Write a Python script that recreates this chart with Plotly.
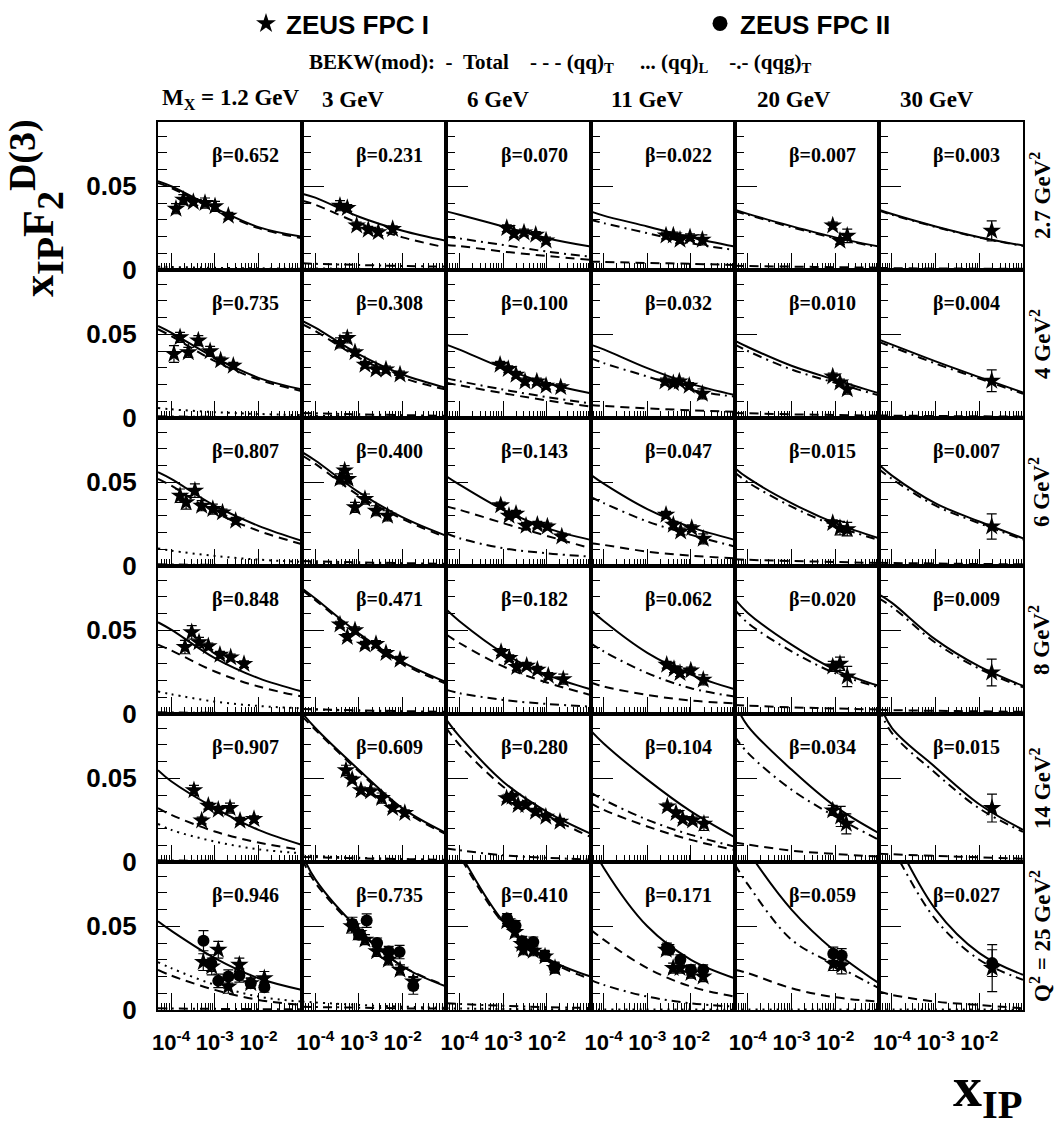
import math
import plotly.graph_objects as go
from plotly.subplots import make_subplots

# ---------------- data ----------------
MX_LABELS = ["M<sub>X</sub> = 1.2 GeV", "3 GeV", "6 GeV", "11 GeV", "20 GeV", "30 GeV"]
Q2_LABELS = ["2.7 GeV<sup>2</sup>", "4 GeV<sup>2</sup>", "6 GeV<sup>2</sup>", "8 GeV<sup>2</sup>",
             "14 GeV<sup>2</sup>", "Q<sup>2</sup> = 25 GeV<sup>2</sup>"]
BETA = ["0.652", "0.231", "0.070", "0.022", "0.007", "0.003",
        "0.735", "0.308", "0.100", "0.032", "0.010", "0.004",
        "0.807", "0.400", "0.143", "0.047", "0.015", "0.007",
        "0.848", "0.471", "0.182", "0.062", "0.020", "0.009",
        "0.907", "0.609", "0.280", "0.104", "0.034", "0.015",
        "0.946", "0.735", "0.410", "0.171", "0.059", "0.027"]

NB = "\u00a0"
XTICK_VALS = [1e-4, 1e-3, 1e-2]
XTICK_TEXT = ["10<sup>-4</sup>", "10<sup>-3</sup>", "10<sup>-2</sup>"]
YTICK_VALS = [0, 0.05]
YTICK_TEXT = ["0", "0.05"]

# model curves sampled at these x_IP values
CURVE_X = [5e-5, 1e-4, 1e-3, 1e-2, 1e-1]

TOTAL = [
    [0.053, 0.050, 0.037, 0.0256, 0.0198], [0.0456, 0.0432, 0.0318, 0.0234, 0.0174],
    [0.035, 0.033, 0.026, 0.019, 0.014], [0.035, 0.0325, 0.026, 0.0194, 0.014],
    [0.036, 0.0335, 0.0262, 0.0195, 0.014], [0.036, 0.0334, 0.026, 0.0196, 0.0146],
    [0.055, 0.051, 0.036, 0.024, 0.017], [0.058, 0.054, 0.038, 0.026, 0.018],
    [0.0438, 0.0408, 0.0298, 0.0208, 0.0148], [0.0438, 0.041, 0.0298, 0.0204, 0.0138],
    [0.0462, 0.0424, 0.0312, 0.0228, 0.0148], [0.0468, 0.0438, 0.0338, 0.0244, 0.0152],
    [0.056, 0.052, 0.036, 0.024, 0.015], [0.068, 0.063, 0.044, 0.029, 0.018],
    [0.0536, 0.0486, 0.0336, 0.0226, 0.0156], [0.0546, 0.0492, 0.034, 0.0232, 0.0156],
    [0.0586, 0.0526, 0.0376, 0.0256, 0.0166], [0.0606, 0.054, 0.0374, 0.0266, 0.0166],
    [0.0548, 0.0504, 0.0334, 0.0214, 0.0134], [0.075, 0.069, 0.048, 0.031, 0.019],
    [0.0624, 0.0554, 0.0364, 0.0234, 0.0148], [0.0624, 0.0555, 0.0365, 0.0235, 0.0148],
    [0.0688, 0.0604, 0.0414, 0.0264, 0.0168], [0.0714, 0.0664, 0.0444, 0.0284, 0.0168],
    [0.0548, 0.0482, 0.0322, 0.0192, 0.0102], [0.089, 0.080, 0.055, 0.032, 0.0172],
    [0.085, 0.075, 0.048, 0.030, 0.017], [0.0786, 0.0708, 0.0492, 0.0302, 0.0148],
    [0.095, 0.0812, 0.0552, 0.0332, 0.0172], [0.096, 0.080, 0.0565, 0.0345, 0.0192],
    [0.053, 0.0474, 0.031, 0.019, 0.012], [0.093, 0.078, 0.048, 0.026, 0.014],
    [0.107, 0.094, 0.053, 0.031, 0.020], [0.100, 0.085, 0.050, 0.030, 0.019],
    [0.108, 0.095, 0.060, 0.035, 0.016], [0.122, 0.106, 0.060, 0.034, 0.021],
]
QQ_T = [
    [0.052, 0.049, 0.036, 0.025, 0.019], [0.0414, 0.039, 0.028, 0.0195, 0.0134],
    [0.015, 0.0143, 0.011, 0.0084, 0.006], [0.005, 0.0048, 0.0042, 0.0037, 0.003],
    [0.0025, 0.0024, 0.002, 0.0017, 0.0014], [0.0012, 0.0011, 0.0009, 0.0008, 0.0007],
    [0.053, 0.049, 0.034, 0.023, 0.016], [0.056, 0.052, 0.036, 0.024, 0.017],
    [0.021, 0.0195, 0.0148, 0.0105, 0.0068], [0.0078, 0.0072, 0.0058, 0.0046, 0.0038],
    [0.003, 0.0028, 0.0022, 0.0018, 0.0014], [0.0015, 0.0014, 0.0012, 0.001, 0.0008],
    [0.052, 0.048, 0.032, 0.021, 0.013], [0.066, 0.061, 0.042, 0.028, 0.017],
    [0.0356, 0.0336, 0.0256, 0.018, 0.0106], [0.0136, 0.0126, 0.0086, 0.0062, 0.0046],
    [0.004, 0.0037, 0.003, 0.0024, 0.0018], [0.002, 0.0018, 0.0015, 0.0012, 0.001],
    [0.0414, 0.038, 0.0254, 0.0164, 0.0104], [0.074, 0.068, 0.047, 0.030, 0.018],
    [0.0474, 0.0424, 0.0284, 0.0188, 0.0114], [0.0188, 0.0164, 0.0114, 0.008, 0.0064],
    [0.0054, 0.005, 0.004, 0.0033, 0.0027], [0.0025, 0.0023, 0.0019, 0.0016, 0.0013],
    [0.0322, 0.0282, 0.0182, 0.0116, 0.0072], [0.087, 0.079, 0.054, 0.031, 0.0165],
    [0.080, 0.070, 0.045, 0.028, 0.015], [0.0352, 0.0312, 0.0212, 0.0132, 0.0072],
    [0.0116, 0.0104, 0.0068, 0.0048, 0.0032], [0.005, 0.0046, 0.0036, 0.0028, 0.002],
    [0.024, 0.0206, 0.012, 0.006, 0.003], [0.090, 0.076, 0.047, 0.026, 0.0145],
    [0.105, 0.092, 0.052, 0.030, 0.0185], [0.048, 0.042, 0.025, 0.014, 0.008],
    [0.024, 0.022, 0.013, 0.0076, 0.005], [0.011, 0.009, 0.005, 0.003, 0.001],
]
QQ_L = [
    [0.002, 0.0018, 0.0013, 0.001, 0.0008], [0.001, 0.0009, 0.0007, 0.0005, 0.0004],
    [0.0004, 0.00035, 0.0003, 0.00025, 0.0002], [0.0004, 0.00035, 0.0003, 0.00025, 0.0002],
    [0.0004, 0.00035, 0.0003, 0.00025, 0.0002], [0.0004, 0.00035, 0.0003, 0.00025, 0.0002],
    [0.006, 0.0052, 0.0035, 0.0024, 0.0017], [0.0015, 0.0013, 0.001, 0.0007, 0.0005],
    [0.0004, 0.00035, 0.0003, 0.00025, 0.0002], [0.0004, 0.00035, 0.0003, 0.00025, 0.0002],
    [0.0004, 0.00035, 0.0003, 0.00025, 0.0002], [0.0004, 0.00035, 0.0003, 0.00025, 0.0002],
    [0.0105, 0.0092, 0.006, 0.0038, 0.0025], [0.002, 0.0018, 0.0013, 0.0009, 0.0006],
    [0.0005, 0.00045, 0.0004, 0.0003, 0.0002], [0.0004, 0.00035, 0.0003, 0.00025, 0.0002],
    [0.0004, 0.00035, 0.0003, 0.00025, 0.0002], [0.0004, 0.00035, 0.0003, 0.00025, 0.0002],
    [0.0134, 0.0118, 0.0074, 0.0048, 0.0034], [0.003, 0.0027, 0.0019, 0.0013, 0.0009],
    [0.0006, 0.0005, 0.0004, 0.0003, 0.0002], [0.0004, 0.00035, 0.0003, 0.00025, 0.0002],
    [0.0004, 0.00035, 0.0003, 0.00025, 0.0002], [0.0004, 0.00035, 0.0003, 0.00025, 0.0002],
    [0.0228, 0.0192, 0.0122, 0.0076, 0.0052], [0.004, 0.0036, 0.0025, 0.0017, 0.0011],
    [0.0008, 0.0007, 0.0005, 0.0004, 0.0003], [0.0004, 0.00035, 0.0003, 0.00025, 0.0002],
    [0.0004, 0.00035, 0.0003, 0.00025, 0.0002], [0.0004, 0.00035, 0.0003, 0.00025, 0.0002],
    [0.0286, 0.025, 0.015, 0.008, 0.005], [0.005, 0.0045, 0.003, 0.002, 0.0013],
    [0.001, 0.0009, 0.0006, 0.0004, 0.0003], [0.0004, 0.00035, 0.0003, 0.00025, 0.0002],
    [0.0004, 0.00035, 0.0003, 0.00025, 0.0002], [0.0004, 0.00035, 0.0003, 0.00025, 0.0002],
]
QQG_T = [
    [0.0008, 0.0007, 0.0005, 0.0003, 0.0002], [0.004, 0.0037, 0.003, 0.0024, 0.002],
    [0.020, 0.0188, 0.015, 0.011, 0.008], [0.030, 0.028, 0.022, 0.016, 0.012],
    [0.035, 0.033, 0.0255, 0.019, 0.0135], [0.0355, 0.033, 0.0257, 0.0193, 0.0144],
    [0.001, 0.0009, 0.0007, 0.0005, 0.0004], [0.003, 0.0028, 0.0022, 0.0017, 0.0013],
    [0.0238, 0.022, 0.017, 0.0125, 0.0088], [0.0358, 0.0328, 0.0248, 0.0168, 0.0128],
    [0.044, 0.040, 0.029, 0.021, 0.0135], [0.0455, 0.0425, 0.0325, 0.0235, 0.0145],
    [0.001, 0.0009, 0.0007, 0.0005, 0.0004], [0.003, 0.0028, 0.0022, 0.0017, 0.0013],
    [0.0196, 0.0166, 0.0106, 0.0076, 0.0056], [0.0412, 0.0376, 0.0266, 0.0186, 0.0116],
    [0.056, 0.050, 0.0355, 0.024, 0.0155], [0.058, 0.052, 0.036, 0.0255, 0.0158],
    [0.001, 0.0009, 0.0007, 0.0005, 0.0004], [0.003, 0.0028, 0.0022, 0.0017, 0.0013],
    [0.0144, 0.0124, 0.0084, 0.006, 0.0044], [0.0424, 0.0374, 0.0244, 0.0154, 0.0104],
    [0.0624, 0.0544, 0.0374, 0.0244, 0.016], [0.069, 0.064, 0.0425, 0.027, 0.016],
    [0.001, 0.0009, 0.0007, 0.0005, 0.0004], [0.003, 0.0028, 0.0022, 0.0017, 0.0013],
    [0.008, 0.007, 0.004, 0.0025, 0.0015], [0.0416, 0.0372, 0.0252, 0.0162, 0.0092],
    [0.075, 0.0652, 0.0432, 0.0272, 0.0132], [0.092, 0.077, 0.053, 0.032, 0.018],
    [0.001, 0.0009, 0.0007, 0.0005, 0.0004], [0.002, 0.0018, 0.0014, 0.001, 0.0008],
    [0.004, 0.0036, 0.0025, 0.0017, 0.0012], [0.018, 0.015, 0.008, 0.004, 0.002],
    [0.087, 0.075, 0.042, 0.027, 0.013], [0.110, 0.097, 0.054, 0.030, 0.018],
]

# ZEUS FPC I (stars)
FPC1_X = [
    [1.29e-4, 1.9e-4, 3.22e-4, 5.96e-4, 1.01e-3, 2.04e-3],
    [3.67e-4, 5.4e-4, 8.85e-4, 1.63e-3, 2.77e-3, 5.9e-3],
    [1.21e-3, 1.77e-3, 3.0e-3, 5.57e-3, 9.6e-3],
    [2.68e-3, 3.94e-3, 5.6e-3, 9.5e-3, 1.82e-2],
    [8.8e-3, 1.29e-2, 1.89e-2],
    [1.92e-2],
    [1.16e-4, 1.6e-4, 2.47e-4, 4.19e-4, 7.8e-4, 1.36e-3, 2.65e-3],
    [3.67e-4, 5.4e-4, 8.1e-4, 1.37e-3, 2.45e-3, 4.15e-3, 8.7e-3],
    [8.5e-4, 1.31e-3, 1.97e-3, 3.17e-3, 5.9e-3, 9.6e-3, 2.08e-2],
    [2.54e-3, 3.94e-3, 5.4e-3, 9.1e-3, 1.82e-2],
    [8.8e-3, 1.29e-2, 1.89e-2],
    [1.92e-2],
    [1.6e-4, 2.2e-4, 3.5e-4, 5e-4, 9e-4, 1.5e-3, 3e-3],
    [3.67e-4, 4.7e-4, 5.6e-4, 8.1e-4, 1.37e-3, 2.45e-3, 4.5e-3],
    [8.8e-4, 1.36e-3, 1.97e-3, 3.34e-3, 6.07e-3, 1.03e-2, 2.2e-2],
    [2.68e-3, 3.94e-3, 5.8e-3, 1.04e-2, 1.91e-2],
    [8.8e-3, 1.29e-2, 1.89e-2],
    [1.92e-2],
    [2.07e-4, 2.96e-4, 4.35e-4, 7.1e-4, 1.31e-3, 2.31e-3, 4.66e-3],
    [3.67e-4, 5.4e-4, 8.1e-4, 1.37e-3, 2.45e-3, 4.15e-3, 8.7e-3],
    [8.96e-4, 1.38e-3, 2.05e-3, 3.46e-3, 6.07e-3, 1.08e-2, 2.38e-2],
    [2.78e-3, 4.08e-3, 5.6e-3, 9.9e-3, 1.91e-2],
    [8.8e-3, 1.29e-2, 1.89e-2],
    [1.92e-2],
    [3.33e-4, 5.0e-4, 7.1e-4, 1.2e-3, 2.23e-3, 3.78e-3, 7.9e-3],
    [5.04e-4, 6.98e-4, 1.11e-3, 1.85e-3, 3.3e-3, 5.9e-3, 1.12e-2],
    [1.2e-3, 1.6e-3, 2.2e-3, 3.3e-3, 5.5e-3, 9.5e-3, 2.0e-2],
    [2.87e-3, 4.54e-3, 6.46e-3, 1.09e-2, 1.98e-2],
    [8.8e-3, 1.34e-2, 1.8e-2],
    [1.95e-2],
    [5.44e-4, 8.5e-4, 1.2e-3, 2.04e-3, 3.64e-3, 6.64e-3, 1.36e-2],
    [6.8e-4, 9.6e-4, 1.37e-3, 2.54e-3, 4.7e-3, 8.7e-3, 1.75e-2],
    [1.21e-3, 1.87e-3, 2.67e-3, 2.9e-3, 4.9e-3, 9.1e-3, 1.54e-2],
    [2.7e-3, 3.9e-3, 5.6e-3, 1.0e-2, 1.9e-2],
    [9.06e-3, 1.41e-2],
    [1.97e-2],
]
FPC1_Y = [
    [0.0366, 0.042, 0.0406, 0.040, 0.038, 0.0324],
    [0.0384, 0.037, 0.0266, 0.024, 0.0226, 0.0244],
    [0.025, 0.0216, 0.0224, 0.021, 0.0176],
    [0.0206, 0.0206, 0.018, 0.0196, 0.018],
    [0.0266, 0.0174, 0.0204],
    [0.0234],
    [0.0382, 0.0482, 0.0392, 0.0462, 0.0398, 0.0344, 0.0312],
    [0.0448, 0.0478, 0.0392, 0.0318, 0.029, 0.029, 0.026],
    [0.0318, 0.0292, 0.0258, 0.0218, 0.0218, 0.0192, 0.0184],
    [0.0218, 0.0208, 0.0218, 0.0192, 0.0144],
    [0.0248, 0.0212, 0.0172],
    [0.0222],
    [0.042, 0.038, 0.045, 0.036, 0.034, 0.032, 0.027],
    [0.052, 0.057, 0.052, 0.035, 0.040, 0.033, 0.030],
    [0.0362, 0.030, 0.0312, 0.024, 0.0246, 0.0236, 0.0176],
    [0.0306, 0.0246, 0.0206, 0.0226, 0.0162],
    [0.0256, 0.0226, 0.022],
    [0.0236],
    [0.040, 0.0488, 0.0428, 0.0404, 0.0354, 0.0338, 0.0298],
    [0.0534, 0.046, 0.050, 0.0414, 0.0418, 0.0364, 0.0324],
    [0.037, 0.0334, 0.028, 0.0288, 0.0264, 0.0228, 0.0208],
    [0.0294, 0.0268, 0.0244, 0.026, 0.0204],
    [0.0284, 0.030, 0.0224],
    [0.0248],
    [0.0428, 0.0248, 0.0336, 0.0312, 0.0322, 0.0246, 0.0256],
    [0.0548, 0.0492, 0.0428, 0.0422, 0.0382, 0.0322, 0.0292],
    [0.038, 0.039, 0.034, 0.034, 0.030, 0.027, 0.024],
    [0.0332, 0.0292, 0.0256, 0.0248, 0.0228],
    [0.0308, 0.0272, 0.0228],
    [0.0322],
    [0.0286, 0.026, 0.036, 0.014, 0.027, 0.016, 0.019],
    [0.050, 0.046, 0.042, 0.035, 0.030, 0.024, 0.017],
    [0.053, 0.0466, 0.0394, 0.036, 0.0354, 0.032, 0.025],
    [0.036, 0.025, 0.025, 0.022, 0.020],
    [0.0276, 0.0266],
    [0.025],
]
FPC1_E = [
    [0.003, 0.003, 0.002, 0.003, 0.003, 0.002],
    [0.003, 0.002, 0.002, 0.002, 0.002, 0.002],
    [0.002, 0.002, 0.002, 0.002, 0.002],
    [0.002, 0.002, 0.002, 0.002, 0.003],
    [0.002, 0.002, 0.004],
    [0.006],
    [0.005, 0.003, 0.003, 0.003, 0.003, 0.002, 0.002],
    [0.003, 0.003, 0.002, 0.002, 0.002, 0.002, 0.002],
    [0.002, 0.002, 0.002, 0.002, 0.002, 0.002, 0.002],
    [0.002, 0.002, 0.002, 0.002, 0.003],
    [0.002, 0.002, 0.003],
    [0.0065],
    [0.004, 0.004, 0.004, 0.003, 0.003, 0.002, 0.002],
    [0.003, 0.003, 0.003, 0.003, 0.003, 0.003, 0.003],
    [0.002, 0.002, 0.002, 0.002, 0.002, 0.002, 0.002],
    [0.002, 0.002, 0.002, 0.002, 0.003],
    [0.002, 0.004, 0.004],
    [0.0075],
    [0.004, 0.004, 0.003, 0.002, 0.002, 0.002, 0.002],
    [0.002, 0.002, 0.002, 0.002, 0.002, 0.002, 0.002],
    [0.002, 0.002, 0.002, 0.002, 0.002, 0.002, 0.003],
    [0.002, 0.002, 0.002, 0.002, 0.003],
    [0.003, 0.004, 0.006],
    [0.008],
    [0.003, 0.002, 0.002, 0.002, 0.003, 0.002, 0.002],
    [0.003, 0.002, 0.002, 0.002, 0.003, 0.002, 0.002],
    [0.002, 0.002, 0.002, 0.002, 0.002, 0.002, 0.002],
    [0.002, 0.002, 0.002, 0.002, 0.004],
    [0.003, 0.006, 0.006],
    [0.0083],
    [0.005, 0.005, 0.005, 0.004, 0.004, 0.003, 0.004],
    [0.004, 0.003, 0.003, 0.003, 0.003, 0.003, 0.003],
    [0.003, 0.003, 0.003, 0.003, 0.003, 0.003, 0.003],
    [0.003, 0.003, 0.003, 0.003, 0.003],
    [0.004, 0.005],
    [0.014],
]

# ZEUS FPC II (circles) - only at Q2 = 25 GeV2 (panels 30..35)
FPC2_X = [[] for _ in range(30)] + [
    [5.5e-4, 8.3e-4, 1.2e-3, 2.04e-3, 3.64e-3, 6.64e-3, 1.36e-2],
    [7.1e-4, 1.0e-3, 1.5e-3, 2.6e-3, 4.8e-3, 8.5e-3, 1.75e-2],
    [1.23e-3, 1.92e-3, 2.75e-3, 4.9e-3, 8.9e-3, 1.5e-2],
    [2.8e-3, 3.2e-3, 5.7e-3, 1.0e-2, 1.9e-2],
    [9.06e-3, 1.41e-2],
    [1.97e-2],
]
FPC2_Y = [[] for _ in range(30)] + [
    [0.0414, 0.028, 0.0174, 0.020, 0.0206, 0.016, 0.0136],
    [0.0514, 0.045, 0.0534, 0.040, 0.035, 0.0346, 0.0144],
    [0.0546, 0.0504, 0.041, 0.0406, 0.0326, 0.0256],
    [0.037, 0.036, 0.030, 0.024, 0.024],
    [0.0336, 0.0326],
    [0.028],
]
FPC2_E = [[] for _ in range(30)] + [
    [0.006, 0.005, 0.004, 0.004, 0.004, 0.003, 0.003],
    [0.004, 0.003, 0.004, 0.003, 0.003, 0.004, 0.005],
    [0.003, 0.003, 0.003, 0.003, 0.003, 0.003],
    [0.003, 0.003, 0.003, 0.003, 0.003],
    [0.004, 0.004],
    [0.008],
]

# ---------------- figure ----------------
W, H = 1064, 1129
PL, PR, PT, PB = 158, 1023, 122, 1010
SERIF = "Liberation Serif"
SANS = "Liberation Sans"


def px_x(X):
    return (X - PL) / (PR - PL)


def px_y(Y):
    return (PB - Y) / (PB - PT)


fig = make_subplots(rows=6, cols=6, horizontal_spacing=0, vertical_spacing=0)

STYLES = [(TOTAL, "solid"), (QQ_T, "9px,6px"), (QQ_L, "2px,5px"), (QQG_T, "9px,5px,2px,5px")]

for p in range(36):
    r, c = divmod(p, 6)
    for series, dash in STYLES:
        fig.add_trace(go.Scatter(x=CURVE_X, y=series[p], mode="lines",
                                 line=dict(color="black", width=2, dash=dash, shape="spline", smoothing=1.0),
                                 showlegend=False, hoverinfo="skip"), row=r + 1, col=c + 1)
    if FPC1_X[p]:
        fig.add_trace(go.Scatter(x=FPC1_X[p], y=FPC1_Y[p], mode="markers",
                                 marker=dict(symbol="star", size=14, color="black"),
                                 error_y=dict(type="data", array=FPC1_E[p], color="black", thickness=1.2, width=5),
                                 showlegend=False), row=r + 1, col=c + 1)
    if FPC2_X[p]:
        fig.add_trace(go.Scatter(x=FPC2_X[p], y=FPC2_Y[p], mode="markers",
                                 marker=dict(symbol="circle", size=12, color="black"),
                                 error_y=dict(type="data", array=FPC2_E[p], color="black", thickness=1.2, width=5),
                                 showlegend=False), row=r + 1, col=c + 1)

# legend entries (two separate legends so they sit far apart on one line)
fig.add_trace(go.Scatter(x=[None], y=[None], mode="markers", name="ZEUS FPC I", legend="legend",
                         marker=dict(symbol="star", size=15, color="black")), row=1, col=1)
fig.add_trace(go.Scatter(x=[None], y=[None], mode="markers", name="ZEUS FPC II", legend="legend2",
                         marker=dict(symbol="circle", size=15, color="black")), row=1, col=1)

XMINOR = [k * 10.0 ** d for d in (-5, -4, -3, -2) for k in range(2, 10) if 5e-5 <= k * 10.0 ** d <= 0.1]

fig.update_xaxes(type="log", range=[math.log10(5e-5), -1], showline=True, mirror=True,
                 linecolor="black", linewidth=2, ticks="inside", tickvals=XTICK_VALS, ticktext=XTICK_TEXT,
                 ticklen=17, tickwidth=1, tickcolor="black", tickangle=0, ticklabelstandoff=12,
                 minor=dict(tickvals=XMINOR, ticks="inside", ticklen=7, tickwidth=1, tickcolor="black"),
                 showgrid=False, zeroline=False, showticklabels=False,
                 tickfont=dict(family=SANS, size=22, color="black", weight="bold"))
fig.update_xaxes(showticklabels=True, row=6)
fig.update_yaxes(range=[0, 0.0884], showline=True, mirror=True, linecolor="black", linewidth=2,
                 ticks="inside", tickvals=YTICK_VALS, ticktext=YTICK_TEXT, ticklen=22, tickwidth=1,
                 tickcolor="black",
                 minor=dict(dtick=0.01, tick0=0, ticks="inside", ticklen=9, tickwidth=1, tickcolor="black"),
                 showgrid=False, zeroline=False, showticklabels=False, ticklabelstandoff=14,
                 tickfont=dict(family=SANS, size=26, color="black", weight="bold"))
fig.update_yaxes(showticklabels=True, col=1)

# beta labels
for p in range(36):
    n = "" if p == 0 else str(p + 1)
    fig.add_annotation(text="β=" + BETA[p], xref=f"x{n} domain", yref=f"y{n} domain", x=1, y=1,
                       xanchor="right", yanchor="middle", xshift=-21, yshift=-33, showarrow=False,
                       font=dict(family=SERIF, size=20, color="black", weight="bold"))

# column headers
MX_X = [160, 320, 465, 609, 755, 898]
for i, lab in enumerate(MX_LABELS):
    fig.add_annotation(text=lab, xref="paper", yref="paper", x=px_x(MX_X[i]), y=px_y(99),
                       xanchor="left", yanchor="middle", showarrow=False,
                       font=dict(family=SERIF, size=23, color="black", weight="bold"))

# row labels
for r, lab in enumerate(Q2_LABELS):
    fig.add_annotation(text=lab, xref="paper", yref="paper", x=px_x(1040), y=px_y(PT + (r + 0.5) * 148),
                       xanchor="center", yanchor="middle", textangle=-90, showarrow=False,
                       font=dict(family=SERIF, size=23, color="black", weight="bold"))

bekw = ("BEKW(mod):" + NB * 2 + "-" + NB * 2 + "Total" + NB * 4 + "-" + NB + "-" + NB + "-" + NB + "(qq)<sub>T</sub>"
        + NB * 5 + "..." + NB + "(qq)<sub>L</sub>" + NB * 4 + "-.-" + NB + "(qqg)<sub>T</sub>")
fig.add_annotation(text=bekw, xref="paper", yref="paper", x=px_x(560), y=px_y(63), xanchor="center",
                   yanchor="middle", showarrow=False, font=dict(family=SERIF, size=21, color="black", weight="bold"))

ytitle = ("x<sub><span style='font-size:38px'>IP</span></sub>F<sub><span style='font-size:38px'>2</span></sub>"
          "<sup><span style='font-size:38px'>D(3)</span></sup>")
fig.add_annotation(text=ytitle, xref="paper", yref="paper",
                   x=px_x(36), y=px_y(208), xanchor="center", yanchor="middle", textangle=-90, showarrow=False,
                   font=dict(family=SERIF, size=44, color="black", weight="bold"))
fig.add_annotation(text="x<sub>IP</sub>", xref="paper", yref="paper", x=px_x(988), y=px_y(1090),
                   xanchor="center", yanchor="middle", showarrow=False,
                   font=dict(family=SERIF, size=58, color="black", weight="bold"))

LEG_FONT = dict(family=SANS, size=26, color="black", weight="bold")
fig.update_layout(width=W, height=H, margin=dict(l=PL, r=W - PR, t=PT, b=H - PB, pad=0),
                  plot_bgcolor="white", paper_bgcolor="white", showlegend=True,
                  legend=dict(orientation="h", xref="container", yref="container", x=246 / W, y=1.0,
                              xanchor="left", yanchor="top", font=LEG_FONT,
                              bgcolor="rgba(0,0,0,0)", itemsizing="trace"),
                  legend2=dict(orientation="h", xref="container", yref="container", x=700 / W, y=1.0,
                               xanchor="left", yanchor="top", font=LEG_FONT,
                               bgcolor="rgba(0,0,0,0)", itemsizing="trace"))

fig.write_html("out.html", config={"displayModeBar": False},
               post_script="document.body.style.margin='0';")
